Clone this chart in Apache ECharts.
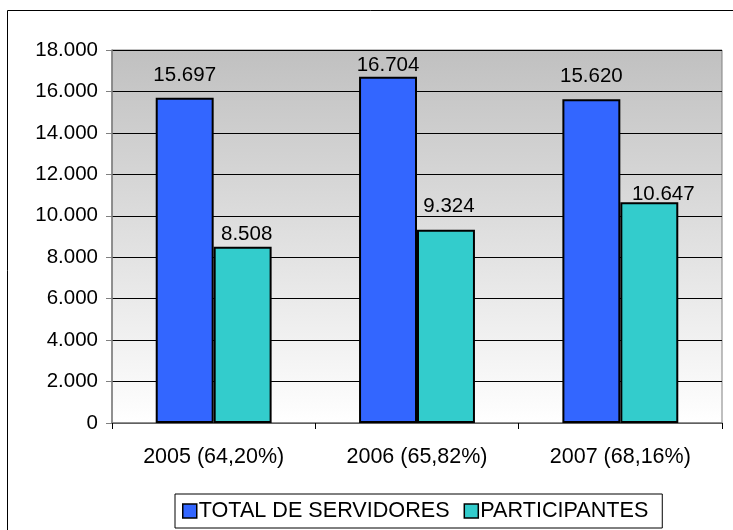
<!DOCTYPE html>
<html><head><meta charset="utf-8">
<script src="https://cdn.jsdelivr.net/npm/echarts@6/dist/echarts.min.js"></script>
<style>html,body{margin:0;padding:0;background:#fff}#c{width:733px;height:530px}</style>
</head><body><div id="c"></div>
<script>
const categories = ['2005 (64,20%)', '2006 (65,82%)', '2007 (68,16%)'];
const totalServidores = [15697, 16704, 15620];
const participantes = [8508, 9324, 10647];
const seriesNames = ['TOTAL DE SERVIDORES', 'PARTICIPANTES'];

const fmt = v => String(v).replace(/\B(?=(\d{3})+(?!\d))/g, '.');
const font = 'Liberation Sans, Arial, sans-serif';

// label placement tweaks (style only), matching the manually placed labels of the original
const labelTweaks = [
  [[0, 12], [0, 1], [0, 12]],
  [[4, 2], [3, 13], [14, -2]]
];

const chart = echarts.init(document.getElementById('c'), null, {renderer: 'canvas'});
const labelCfg = {show: true, position: 'top', distance: 12, color: '#000', fontSize: 20.5, fontFamily: font, formatter: p => fmt(p.value)};
const mk = (vals, s) => vals.map((v, i) => ({value: v, label: {distance: labelTweaks[s][i][1], offset: [labelTweaks[s][i][0], 0]}}));
chart.setOption({
  animation: false,
  textStyle: {fontFamily: font},
  graphic: [{type: 'rect', shape: {x: 7.5, y: 10.5, width: 760, height: 560}, style: {fill: 'none', stroke: '#000', lineWidth: 1}, z: -10}],
  grid: {left: 112, top: 50, right: 11, bottom: 107, show: true, borderColor: '#808080', borderWidth: 1,
    backgroundColor: {type: 'linear', x: 0, y: 0, x2: 0, y2: 1, colorStops: [{offset: 0, color: '#c0c0c0'}, {offset: 1, color: '#ffffff'}]}},
  legend: {bottom: 2, left: 175, data: seriesNames, itemWidth: 14, itemHeight: 14, itemGap: 14,
    borderColor: '#000', borderWidth: 1, padding: [6, 14, 6, 7], backgroundColor: '#fff',
    textStyle: {fontSize: 21.6, lineHeight: 22, color: '#000', fontFamily: font, padding: [0, 0, 0, -3]},
    icon: 'rect', itemStyle: {borderColor: '#000', borderWidth: 1.5}},
  xAxis: {type: 'category', data: categories,
    axisLine: {lineStyle: {color: '#808080', width: 1.5}},
    axisTick: {show: true, length: 6, lineStyle: {color: '#000'}},
    axisLabel: {fontSize: 21.5, color: '#000', margin: 23, fontFamily: font}},
  yAxis: {type: 'value', min: 0, max: 18000, interval: 2000,
    axisLine: {show: true, lineStyle: {color: '#808080', width: 1.5}},
    axisTick: {show: true, length: 6, lineStyle: {color: '#808080'}},
    splitLine: {lineStyle: {color: '#000', width: 1}},
    axisLabel: {fontSize: 20.5, color: '#000', margin: 14, fontFamily: font, formatter: v => fmt(v)}},
  series: [
    {name: seriesNames[0], type: 'bar', data: mk(totalServidores, 0), barGap: '0%', barCategoryGap: '43%',
     itemStyle: {color: '#3366ff', borderColor: '#000', borderWidth: 2}, label: labelCfg},
    {name: seriesNames[1], type: 'bar', data: mk(participantes, 1),
     itemStyle: {color: '#33cccc', borderColor: '#000', borderWidth: 2}, label: labelCfg}
  ]
});
</script></body></html>
